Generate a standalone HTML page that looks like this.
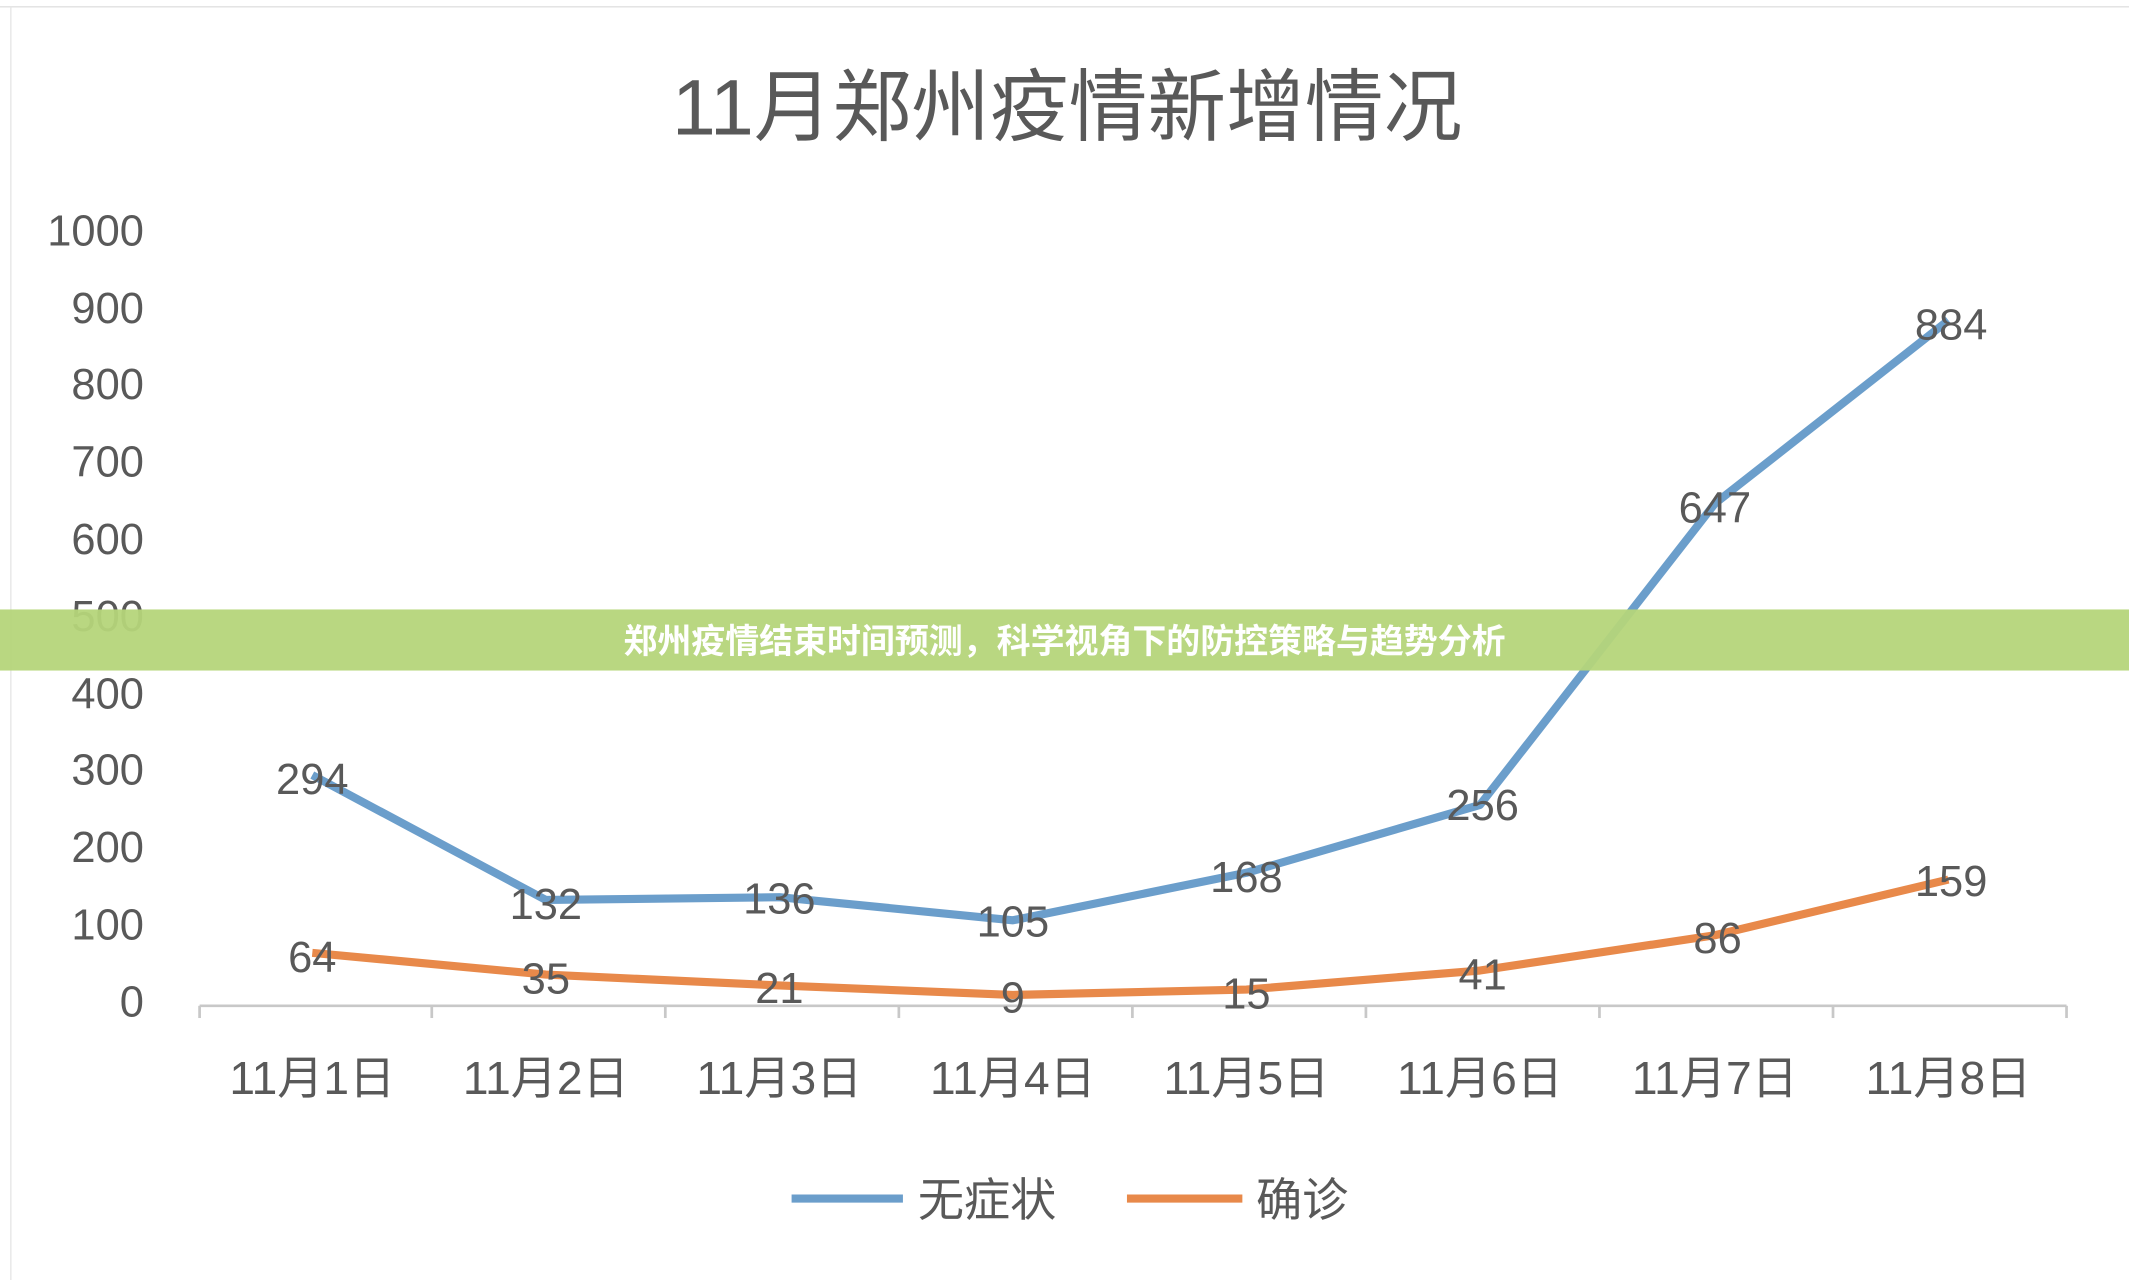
<!DOCTYPE html>
<html><head><meta charset="utf-8"><style>
html,body{margin:0;padding:0;background:#fff;width:2129px;height:1280px;overflow:hidden}
svg{display:block}
text{font-family:"Liberation Sans","Noto Sans CJK SC",sans-serif;fill:#595959}
</style></head><body>
<svg width="2129" height="1280" viewBox="0 0 1568 943" preserveAspectRatio="none">
<rect width="1568" height="943" fill="#fff"/>
<line x1="0" y1="5" x2="1568" y2="5" stroke="#e0e0e0" stroke-width="1"/>
<line x1="8" y1="5" x2="8" y2="943" stroke="#e6e6e6" stroke-width="1"/>
<text x="786" y="99" font-size="58" text-anchor="middle">11月郑州疫情新增情况</text>
<g font-size="32" text-anchor="end">
<text x="106" y="749">0</text><text x="106" y="692">100</text><text x="106" y="635">200</text>
<text x="106" y="578">300</text><text x="106" y="522">400</text><text x="106" y="465">500</text>
<text x="106" y="408">600</text><text x="106" y="351">700</text><text x="106" y="294">800</text>
<text x="106" y="238">900</text><text x="106" y="181">1000</text>
</g>
<line x1="147" y1="741" x2="1522" y2="741" stroke="#c8c8c8" stroke-width="2"/>
<g stroke="#c8c8c8" stroke-width="2">
<line x1="147" y1="741" x2="147" y2="750"/><line x1="318" y1="741" x2="318" y2="750"/>
<line x1="490" y1="741" x2="490" y2="750"/><line x1="662" y1="741" x2="662" y2="750"/>
<line x1="834" y1="741" x2="834" y2="750"/><line x1="1006" y1="741" x2="1006" y2="750"/>
<line x1="1178" y1="741" x2="1178" y2="750"/><line x1="1350" y1="741" x2="1350" y2="750"/>
<line x1="1522" y1="741" x2="1522" y2="750"/>
</g>
<g font-size="34" text-anchor="middle">
<text x="230" y="806">11月1日</text><text x="402" y="806">11月2日</text><text x="574" y="806">11月3日</text>
<text x="746" y="806">11月4日</text><text x="918" y="806">11月5日</text><text x="1090" y="806">11月6日</text>
<text x="1263" y="806">11月7日</text><text x="1435" y="806">11月8日</text>
</g>
<polyline fill="none" stroke="#e8894a" stroke-width="6" stroke-linejoin="round" points="230,702 402,718 574,726 746,733 918,729 1090,715 1263,689 1435,648"/>
<polyline fill="none" stroke="#6b9ecb" stroke-width="6" stroke-linejoin="round" points="230,571 402,663 574,661 746,678 918,643 1090,593 1263,371 1435,236"/>
<g font-size="32" text-anchor="middle" style="fill:#404040">
<text x="230" y="585">294</text><text x="402" y="677">132</text><text x="574" y="673">136</text>
<text x="746" y="690">105</text><text x="918" y="657">168</text><text x="1092" y="604">256</text>
<text x="1263" y="385">647</text><text x="1437" y="250">884</text>
<text x="230" y="716">64</text><text x="402" y="732">35</text><text x="574" y="739">21</text>
<text x="746" y="746">9</text><text x="918" y="743">15</text><text x="1092" y="729">41</text>
<text x="1265" y="702">86</text><text x="1437" y="660">159</text>
</g>
<line x1="583" y1="883" x2="665" y2="883" stroke="#6b9ecb" stroke-width="6"/>
<text x="676" y="896" font-size="34">无症状</text>
<line x1="830" y1="883" x2="915" y2="883" stroke="#e8894a" stroke-width="6"/>
<text x="925" y="896" font-size="34">确诊</text>
<rect x="0" y="449" width="1568" height="45" fill="#b5d57a" opacity="0.95"/>
<text x="784" y="481" font-size="25" font-weight="bold" text-anchor="middle" style="fill:#fff">郑州疫情结束时间预测，科学视角下的防控策略与趋势分析</text>
</svg>
</body></html>
